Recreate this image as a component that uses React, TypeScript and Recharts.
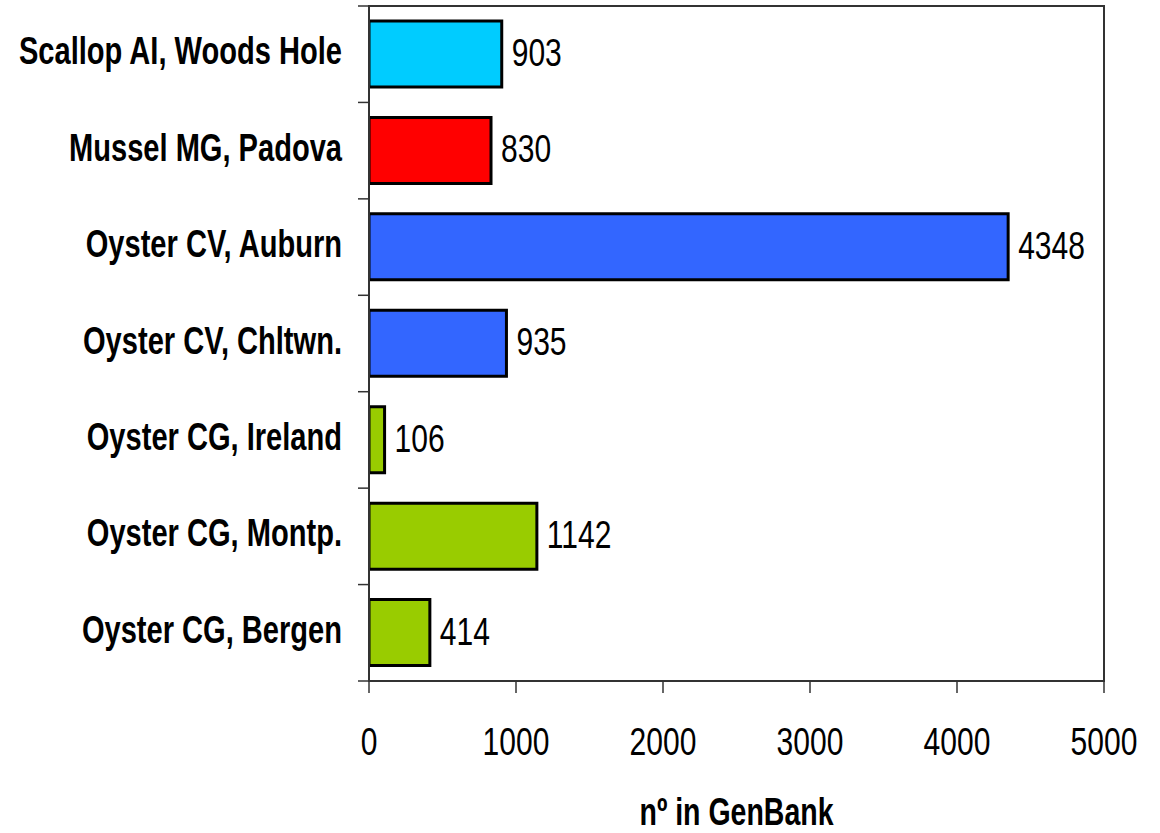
import React from "react";
import {
  BarChart,
  Bar,
  XAxis,
  YAxis,
  Cell,
  LabelList,
  ReferenceArea,
} from "recharts";

const categories = [
  "Scallop AI, Woods Hole",
  "Mussel MG, Padova",
  "Oyster CV, Auburn",
  "Oyster CV, Chltwn.",
  "Oyster CG, Ireland",
  "Oyster CG, Montp.",
  "Oyster CG, Bergen",
];
const values = [903, 830, 4348, 935, 106, 1142, 414];
const xTicks = [0, 1000, 2000, 3000, 4000, 5000];
const barColors = ["#00CCFF", "#FF0000", "#3366FF", "#3366FF", "#99CC00", "#99CC00", "#99CC00"];
const xTitle = "nº in GenBank";

const data = categories.map((name, i) => ({ name, value: values[i] }));

const W = 1160;
const H = 833;
const MARGIN = { top: 6, right: 56, bottom: 0, left: 0 };
const X_AXIS_H = 152;
const Y_AXIS_W = 369;
const PLOT_H = H - MARGIN.top - MARGIN.bottom - X_AXIS_H;
const BAND = PLOT_H / categories.length;
const FONT = "'Liberation Sans', Arial, sans-serif";
const FS = 38;
const AXIS_COLOR = "#333";

const YTick = (props: any) => {
  const { x, y, payload, index } = props;
  const last = index === categories.length - 1;
  return (
    <g>
      <line x1={x} x2={x + 11} y1={y - BAND / 2} y2={y - BAND / 2} stroke={AXIS_COLOR} strokeWidth={1.5} />
      {last && (
        <line x1={x} x2={x + 11} y1={y + BAND / 2} y2={y + BAND / 2} stroke={AXIS_COLOR} strokeWidth={1.5} />
      )}
      <text
        transform={`translate(${x - 16},${y + 10}) scale(0.765,1)`}
        textAnchor="end"
        fontFamily={FONT}
        fontWeight="bold"
        fontSize={FS}
        fill="#000"
      >
        {payload.value}
      </text>
    </g>
  );
};

const XTick = (props: any) => {
  const { x, y, payload } = props;
  return (
    <text
      transform={`translate(${x},${y + 62}) scale(0.79,1)`}
      textAnchor="middle"
      fontFamily={FONT}
      fontSize={FS}
      fill="#000"
    >
      {payload.value}
    </text>
  );
};

const ValueLabel = (props: any) => {
  const { x, y, width, height, value } = props;
  return (
    <text
      transform={`translate(${x + width + 10},${y + height / 2 + 12}) scale(0.79,1)`}
      textAnchor="start"
      fontFamily={FONT}
      fontSize={FS}
      fill="#000"
    >
      {value}
    </text>
  );
};

const XTitle = (props: any) => {
  const vb = props.viewBox || {};
  return (
    <text
      transform={`translate(${vb.x + vb.width / 2},${vb.y + 144}) scale(0.75,1)`}
      textAnchor="middle"
      fontFamily={FONT}
      fontWeight="bold"
      fontSize={FS}
      fill="#000"
    >
      {xTitle}
    </text>
  );
};

export default function App() {
  return (
    <div style={{ position: "absolute", left: 0, top: 0, width: W, height: H, background: "#fff" }}>
      <BarChart width={W} height={H} data={data} layout="vertical" margin={MARGIN}>
        <XAxis
          type="number"
          domain={[0, 5000]}
          ticks={xTicks}
          height={X_AXIS_H}
          tickSize={12}
          tickMargin={0}
          axisLine={{ stroke: AXIS_COLOR, strokeWidth: 2 }}
          tickLine={{ stroke: AXIS_COLOR, strokeWidth: 1.5 }}
          tick={<XTick />}
          label={<XTitle />}
          allowDataOverflow
        />
        <YAxis
          type="category"
          dataKey="name"
          width={Y_AXIS_W}
          tickSize={11}
          tickMargin={0}
          tickLine={false}
          axisLine={{ stroke: AXIS_COLOR, strokeWidth: 2 }}
          tick={<YTick />}
          interval={0}
        />
        <ReferenceArea x1={0} x2={5000} fill="none" stroke={AXIS_COLOR} strokeWidth={2} ifOverflow="visible" />
        <Bar dataKey="value" barSize={66} stroke="#000" strokeWidth={3} isAnimationActive={false}>
          {data.map((d, i) => (
            <Cell key={d.name} fill={barColors[i]} />
          ))}
          <LabelList dataKey="value" content={<ValueLabel />} />
        </Bar>
      </BarChart>
    </div>
  );
}
